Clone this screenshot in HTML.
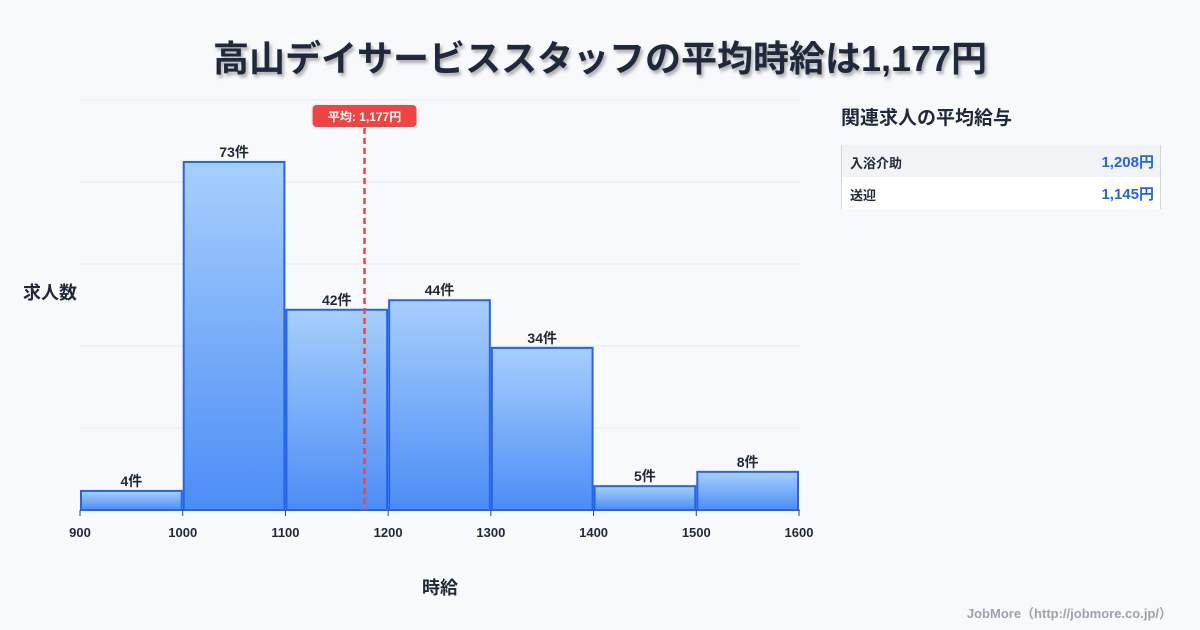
<!DOCTYPE html>
<html><head><meta charset="utf-8"><style>
body{margin:0;width:1200px;height:630px;background:#f8f9fb;font-family:"Liberation Sans","Noto Sans CJK JP",sans-serif;position:relative;overflow:hidden;color:#1f2937}
#title{position:absolute;left:0;width:1200px;top:30px;text-align:center;font-size:36px;font-weight:bold;color:#1e293b;text-shadow:2px 3px 3px rgba(0,0,0,.3)}
#side-title{position:absolute;left:841px;top:103px;font-size:19px;font-weight:bold;color:#1e293b}
.row{position:absolute;left:841px;width:318px;height:32px;border-left:1px solid #d1d5db;border-right:1px solid #d1d5db;font-size:13px;font-weight:bold}
.row span{position:absolute;top:8px}
.row .v{right:6px;color:#2563eb;font-size:15px;top:6px}
#credit{position:absolute;right:28px;top:603px;font-size:13px;color:#9ca3af;font-weight:bold}
</style></head><body>
<div id="title">高山デイサービススタッフの平均時給は1,177円</div>
<svg id="chart" width="1200" height="630" style="position:absolute;left:0;top:0">
<defs><linearGradient id="g" x1="0" y1="0" x2="0" y2="1"><stop offset="0" stop-color="#a7cffc"/><stop offset="1" stop-color="#4b8df6"/></linearGradient></defs>
</svg>
<div id="side-title">関連求人の平均給与</div>
<div class="row" style="top:145px;background:#f1f3f6"><span style="left:8px">入浴介助</span><span class="v">1,208円</span></div>
<div class="row" style="top:177px;background:#fff"><span style="left:8px">送迎</span><span class="v">1,145円</span></div>
<div id="credit">JobMore（http://jobmore.co.jp/）</div>
<script>
const binStarts=[900,1000,1100,1200,1300,1400,1500];
const counts=[4,73,42,44,34,5,8];
const xTicks=[900,1000,1100,1200,1300,1400,1500,1600];
const avg=1177;
const avgLabel="平均: 1,177円";
const yMax=86;
const svg=document.getElementById('chart');
const NS='http://www.w3.org/2000/svg';
const x=v=>80+(v-900)*(719/700);
const y=v=>510-v*(410/yMax);
function mk(t,a,txt){const e=document.createElementNS(NS,t);for(const k in a)e.setAttribute(k,a[k]);if(txt!==undefined)e.textContent=txt;svg.appendChild(e);return e;}
for(let i=0;i<=5;i++){const gy=y(yMax*i/5);
const l=mk('line',{x1:80,x2:800,y1:gy,y2:gy,stroke:'#e5e7eb','stroke-width':1});

}
const ax=mk('line',{x1:80,x2:800,y1:510,y2:510,stroke:'#374151','stroke-width':1});


binStarts.forEach((b,i)=>{
const x0=x(b)+1,x1=x(b+100)-1,yt=y(counts[i]);
const r=mk('rect',{x:x0,y:yt,width:x1-x0,height:510-yt,fill:'url(#g)',stroke:'#2563eb','stroke-width':2});


const t=mk('text',{x:(x0+x1)/2,y:yt-5,'text-anchor':'middle','font-size':14,'font-weight':'bold',fill:'#1f2937'},counts[i]+'件');


});
xTicks.forEach(v=>{
const tk=mk('line',{x1:x(v),x2:x(v),y1:510,y2:516,stroke:'#374151'});


const t=mk('text',{x:x(v),y:537,'text-anchor':'middle','font-size':13,'font-weight':'bold',fill:'#1f2937'},v);


});
const ax2=x(avg);
const al=mk('line',{x1:ax2,x2:ax2,y1:128,y2:510,stroke:'#ef4444','stroke-width':2.5,'stroke-dasharray':'6,4'});


const ab=mk('rect',{x:ax2-52,y:105,width:104,height:22,rx:4,fill:'#ef4444'});


const at=mk('text',{x:ax2,y:121,'text-anchor':'middle','font-size':12,'font-weight':'bold',fill:'#fff'},avgLabel);


const yt=mk('text',{x:50,y:299,'text-anchor':'middle','font-size':18,'font-weight':'bold',fill:'#1f2937'},'求人数');


const xt=mk('text',{x:440,y:594,'text-anchor':'middle','font-size':18,'font-weight':'bold',fill:'#1f2937'},'時給');


</script>
</body></html>
